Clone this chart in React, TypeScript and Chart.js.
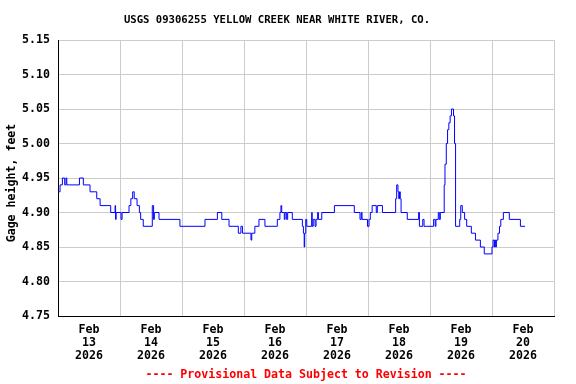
import React, { useEffect, useRef } from "react";
import { Chart, registerables } from "chart.js";

Chart.register(...registerables);

// Hours since Feb 13 2026 00:00 at which the reading changes, and the gage height (feet) from then on
const hoursFromStart: number[] = [
  0, 0.8, 1.7, 2.6, 3.1, 3.4, 8.3, 9.8, 12.4, 15.0,
  16.3, 20.4, 22.1, 22.3, 22.5, 24.4, 24.8, 27.5, 28.2, 28.9,
  29.5, 30.6, 31.5, 32.0, 33.0, 36.5, 37.0, 37.3, 39.1, 47.2,
  56.9, 61.7, 63.4, 66.2, 69.8, 70.8, 71.4, 74.7, 75.0, 76.2,
  77.8, 80.1, 84.9, 85.9, 86.3, 86.6, 87.6, 87.9, 88.5, 88.9,
  90.7, 94.6, 95.0, 95.3, 95.5, 95.9, 96.3, 98.2, 98.4, 98.8,
  99.5, 99.9, 100.5, 100.8, 102.1, 107.0, 114.7, 116.9, 117.4, 117.7,
  119.8, 120.4, 120.9, 121.6, 123.2, 123.6, 125.6, 130.7, 131.1, 131.6,
  131.9, 132.2, 132.5, 132.8, 135.2, 139.6, 139.9, 141.2, 141.7, 145.4,
  146.0, 146.3, 147.2, 147.6, 148.0, 149.5, 149.8, 150.3, 150.8, 151.3,
  151.8, 152.3, 153.1, 153.5, 153.9, 155.5, 155.9, 156.5, 157.4, 158.2,
  160.0, 161.6, 163.5, 165.0, 168.0, 168.4, 168.9, 169.1, 169.4, 169.7,
  170.3, 170.9, 171.4, 172.4, 174.7, 179.0, 180.8,
];

const gageHeightFeet: number[] = [
  4.93, 4.94, 4.95, 4.94, 4.95, 4.94, 4.95, 4.94, 4.93, 4.92,
  4.91, 4.90, 4.91, 4.89, 4.90, 4.89, 4.90, 4.91, 4.92, 4.93,
  4.92, 4.91, 4.90, 4.89, 4.88, 4.91, 4.89, 4.90, 4.89, 4.88,
  4.89, 4.90, 4.89, 4.88, 4.87, 4.88, 4.87, 4.86, 4.87, 4.88,
  4.89, 4.88, 4.89, 4.90, 4.91, 4.90, 4.89, 4.90, 4.89, 4.90,
  4.89, 4.88, 4.87, 4.85, 4.87, 4.89, 4.88, 4.90, 4.88, 4.89,
  4.88, 4.89, 4.90, 4.89, 4.90, 4.91, 4.90, 4.89, 4.90, 4.89,
  4.88, 4.89, 4.90, 4.91, 4.90, 4.91, 4.90, 4.92, 4.94, 4.93,
  4.92, 4.93, 4.92, 4.90, 4.89, 4.90, 4.88, 4.89, 4.88, 4.89,
  4.88, 4.89, 4.90, 4.89, 4.90, 4.94, 4.97, 5.00, 5.02, 5.03,
  5.04, 5.05, 5.04, 5.00, 4.88, 4.89, 4.91, 4.90, 4.89, 4.88,
  4.87, 4.86, 4.85, 4.84, 4.85, 4.86, 4.85, 4.86, 4.85, 4.86,
  4.87, 4.88, 4.89, 4.90, 4.89, 4.88, 4.88,
];

const dayNumbers: string[] = ["13", "14", "15", "16", "17", "18", "19", "20"];
const monthLabel = "Feb";
const yearLabel = "2026";
const xTickHours: number[] = [0, 12, 24, 36, 48, 60, 72, 84, 96, 108, 120, 132, 144, 156, 168, 180, 192];
const yTickValues: number[] = [4.75, 4.8, 4.85, 4.9, 4.95, 5.0, 5.05, 5.1, 5.15];

const titleText = "USGS 09306255 YELLOW CREEK NEAR WHITE RIVER, CO.";
const yAxisTitle = "Gage height, feet";
const footerText = "---- Provisional Data Subject to Revision ----";

const MONO = "'DejaVu Sans Mono', 'Liberation Mono', monospace";

const textPlugin = {
  id: "usgsTexts",
  afterDraw(chart: any) {
    const ctx = chart.ctx as CanvasRenderingContext2D;
    const area = chart.chartArea;
    ctx.save();
    ctx.textBaseline = "middle";
    ctx.textAlign = "center";
    ctx.fillStyle = "#000000";
    ctx.font = `bold 10.6px ${MONO}`;
    ctx.fillText(titleText, 277, 20.5);

    ctx.save();
    ctx.translate(11.5, 183);
    ctx.rotate(-Math.PI / 2);
    ctx.font = `bold 11.6px ${MONO}`;
    ctx.fillText(yAxisTitle, 0, 0);
    ctx.restore();

    ctx.fillStyle = "#ff0000";
    ctx.font = `bold 11.6px ${MONO}`;
    ctx.fillText(footerText, (area.left + area.right) / 2, 375);
    ctx.restore();
  },
};

export default function App() {
  const canvasRef = useRef<HTMLCanvasElement | null>(null);

  useEffect(() => {
    document.body.style.margin = "0";
    const canvas = canvasRef.current;
    if (!canvas) return;
    const points = hoursFromStart.map((h, i) => ({ x: h, y: gageHeightFeet[i] }));

    const chart = new Chart(canvas, {
      type: "line",
      data: {
        datasets: [
          {
            data: points,
            borderColor: "#0000ff",
            borderWidth: 1,
            pointRadius: 0,
            stepped: true,
            fill: false,
          },
        ],
      },
      options: {
        animation: false,
        responsive: false,
        maintainAspectRatio: false,
        devicePixelRatio: 1,
        layout: { padding: { top: 40, right: 22, bottom: 0, left: 0 } },
        plugins: {
          legend: { display: false },
          title: { display: false },
          tooltip: { enabled: false },
        },
        scales: {
          x: {
            type: "linear",
            min: 0,
            max: 192,
            afterBuildTicks: (scale: any) => {
              scale.ticks = xTickHours.map((value) => ({ value }));
            },
            afterFit: (scale: any) => {
              scale.height = 68;
            },
            grid: {
              drawTicks: false,
              lineWidth: 1,
              color: (c: any) =>
                c.tick && c.tick.value % 24 === 0 ? "#cccccc" : "rgba(0,0,0,0)",
            },
            border: { display: true, color: "#000000", width: 1 },
            ticks: {
              autoSkip: false,
              maxRotation: 0,
              padding: 7,
              color: "#000000",
              font: { family: MONO, size: 11.6, weight: "bold", lineHeight: "13px" } as any,
              callback: (value: any) => {
                const v = Number(value);
                if (v % 24 === 12) {
                  const d = Math.floor(v / 24);
                  return [monthLabel, dayNumbers[d], yearLabel];
                }
                return "";
              },
            },
          },
          y: {
            type: "linear",
            min: 4.75,
            max: 5.15,
            afterBuildTicks: (scale: any) => {
              scale.ticks = yTickValues.map((value) => ({ value }));
            },
            afterFit: (scale: any) => {
              scale.width = 58;
            },
            grid: { drawTicks: false, color: "#cccccc", lineWidth: 1 },
            border: { display: true, color: "#000000", width: 1 },
            ticks: {
              padding: 8,
              color: "#000000",
              font: { family: MONO, size: 11.6, weight: "bold" } as any,
              callback: (value: any) => Number(value).toFixed(2),
            },
          },
        },
      },
      plugins: [textPlugin],
    });

    return () => {
      chart.destroy();
    };
  }, []);

  return (
    <div style={{ position: "fixed", left: 0, top: 0, width: 576, height: 384, background: "#ffffff" }}>
      <canvas ref={canvasRef} width={576} height={384} style={{ display: "block", width: 576, height: 384 }} />
    </div>
  );
}
